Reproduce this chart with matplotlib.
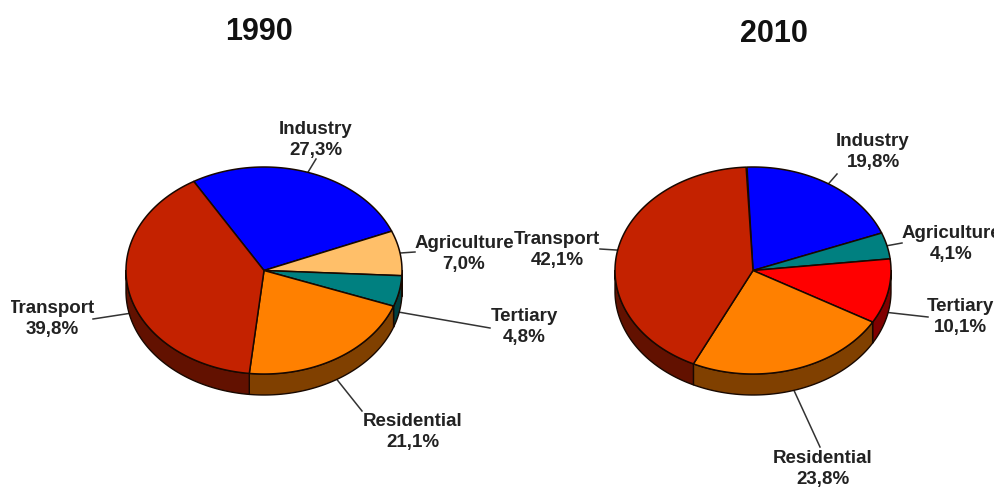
import numpy as np
import matplotlib
matplotlib.use("Agg")
import matplotlib.pyplot as plt
from matplotlib.patches import Polygon, Rectangle

# Final energy consumption shares, in percent
years = ["1990", "2010"]
categories_1990 = ["Industry", "Agriculture", "Tertiary", "Residential", "Transport"]
values_1990 = [27.3, 7.0, 4.8, 21.1, 39.8]
categories_2010 = ["Industry", "Agriculture", "Tertiary", "Residential", "Transport"]
values_2010 = [19.8, 4.1, 10.1, 23.8, 42.1]

# Slice colours as (top face, side wall)
colors_1990 = [("#0000FF", "#00007F"), ("#FFBF69", "#7F5F34"), ("#008080", "#004040"),
               ("#FF8000", "#804000"), ("#C42200", "#621100")]
colors_2010 = [("#0000FF", "#00007F"), ("#008080", "#004040"), ("#FF0000", "#800000"),
               ("#FF8000", "#804000"), ("#C42200", "#621100")]

# Layout in pixels
RX, RY, DEPTH = 138, 103.5, 21
EDGE = "#180800"
FONT = ["Liberation Sans", "DejaVu Sans"]
pies = [
    dict(year=years[0], names=categories_1990, vals=values_1990, cols=colors_1990,
         center=(264, 271.5), start=120.6, title_xy=(259, 32),
         label_xy=[(316, 140), (464, 254), (524, 327), (413, 432), (52, 319)],
         leader_end=[(316, 160), (415, 253), (490, 329), (362, 412), (93, 320)]),
    dict(year=years[1], names=categories_2010, vals=values_2010, cols=colors_2010,
         center=(753, 271.5), start=92.5, title_xy=(774, 34),
         label_xy=[(873, 152), (951, 244), (960, 317), (823, 469), (557, 250)],
         leader_end=[(837, 175), (902, 244), (928, 318), (820, 448), (600, 250)]),
]

fig = plt.figure(figsize=(9.95, 4.89), dpi=100, facecolor="white")
ax = fig.add_axes([0, 0, 1, 1])
ax.set_xlim(0, 995)
ax.set_ylim(489, 0)
ax.axis("off")

# Anything left of this margin is cut off, like the labels at the right border
clip_rect = Rectangle((11, 0), 984, 489, transform=ax.transData)


def rim(center, deg, drop=0.0):
    t = np.radians(deg)
    return np.column_stack([center[0] + RX * np.cos(t),
                            center[1] - RY * np.sin(t) + drop])


for pie in pies:
    c = pie["center"]
    ends = pie["start"] - np.cumsum(pie["vals"]) * 3.6
    starts = np.r_[pie["start"], ends[:-1]]

    # Side walls first: only the part of each slice on the front half shows
    for a0, a1, (top, side) in zip(starts, ends, pie["cols"]):
        for shift in (0, -360):
            hi = min(a0 + shift, 0)
            lo = max(a1 + shift, -180)
            if hi > lo:
                arc = np.linspace(hi, lo, 80)
                pts = np.vstack([rim(c, arc), rim(c, arc[::-1], DEPTH)])
                ax.add_patch(Polygon(pts, closed=True, fc=side, ec=EDGE, lw=1.0,
                                     joinstyle="round", zorder=2))

    # Top faces
    for a0, a1, (top, side) in zip(starts, ends, pie["cols"]):
        arc = np.linspace(a0, a1, 160)
        pts = np.vstack([[c], rim(c, arc)])
        ax.add_patch(Polygon(pts, closed=True, fc=top, ec=EDGE, lw=1.1,
                             joinstyle="round", zorder=3))

    # Leader lines and labels
    for a0, a1, name, val, lxy, lend in zip(starts, ends, pie["names"], pie["vals"],
                                            pie["label_xy"], pie["leader_end"]):
        mid = (a0 + a1) / 2
        drop = DEPTH if np.sin(np.radians(mid)) < 0 else 0
        p = rim(c, np.array([mid]), drop)[0]
        ax.plot([p[0], lend[0]], [p[1], lend[1]], color="#333333", lw=1.1, zorder=1)
        label = f"{name}\n{val:.1f}%".replace(".", ",")
        txt = ax.text(lxy[0], lxy[1], label, ha="center", va="center", family=FONT,
                      fontweight="bold", fontsize=13.5, color="#222222",
                      linespacing=1.25, zorder=5)
        txt.set_clip_path(clip_rect)
        txt.set_clip_on(True)

    ax.text(*pie["title_xy"], pie["year"], ha="center", va="center", family=FONT,
            fontweight="bold", fontsize=22, color="#111111", zorder=5)

fig.savefig("out.png", dpi=100, facecolor="white")
